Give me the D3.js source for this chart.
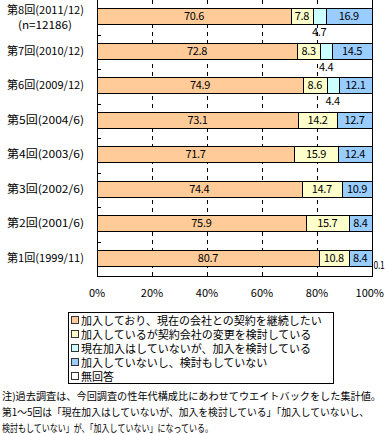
<!DOCTYPE html>
<html>
<head>
<meta charset="utf-8">
<script src="https://cdn.jsdelivr.net/npm/d3@7"></script>
<style>
  body { margin: 0; background: #fff; }
  svg { display: block; }
  text { font-family: "MS PGothic", "Noto Sans CJK JP", sans-serif; fill: #000; }
</style>
</head>
<body>
<div id="chart"></div>
<script>
// survey rounds, top to bottom
var rounds = ["第8回(2011/12)", "第7回(2010/12)", "第6回(2009/12)", "第5回(2004/6)",
              "第4回(2003/6)", "第3回(2002/6)", "第2回(2001/6)", "第1回(1999/11)"]

var continueVals = [70.6, 72.8, 74.9, 73.1, 71.7, 74.4, 75.9, 80.7]
var switchVals   = [7.8, 8.3, 8.6, 14.2, 15.9, 14.7, 15.7, 10.8]
var considerVals = [4.7, 4.4, 4.4, null, null, null, null, null]
var notJoinVals  = [16.9, 14.5, 12.1, 12.7, 12.4, 10.9, 8.4, 8.4]
var noAnswerVals = [0, 0, 0, 0, 0, 0, 0, 0.1]

var xTicks = [0, 20, 40, 60, 80, 100]

var legendKeys = ["加入しており、現在の会社との契約を継続したい",
                  "加入しているが契約会社の変更を検討している",
                  "現在加入はしていないが、加入を検討している",
                  "加入していないし、検討もしていない",
                  "無回答"]
var colors = ["#FFCC99", "#FFFFCC", "#CCFFFF", "#99CCFF", "#FFFFFF"]

var notes = ["注)過去調査は、今回調査の性年代構成比にあわせてウエイトバックをした集計値。",
             "第1〜5回は「現在加入はしていないが、加入を検討している」「加入していないし、",
             "検討もしていない」が、「加入していない」になっている。"]
var noteWidths = [379, 367, 211]

var width = 385, height = 434
var margin = {left: 97, right: 13, top: 0, plotBottom: 276}

var svg = d3.select("#chart").append("svg")
            .attr("width", width)
            .attr("height", height)

var xScale = d3.scaleLinear().domain([0, 100]).range([margin.left, width - margin.right])
var yScale = d3.scaleBand().domain(rounds).range([margin.top, margin.plotBottom])
var barOffset = 8, barH = 16

// build rows
var series = [continueVals, switchVals, considerVals, notJoinVals, noAnswerVals]
var rows = rounds.map(function(r, i) {
    var acc = 0
    return series.map(function(s, k) {
        var v = s[i] || 0
        var seg = {round: r, k: k, v: v, raw: s[i], x0: acc, x1: acc + v}
        acc += v
        return seg
    })
})

// dashed gridlines
svg.append("g").selectAll("line")
   .data(xTicks.filter(function(t) { return t > 0 && t < 100 }))
   .enter().append("line")
   .attr("x1", function(d) { return Math.round(xScale(d)) + 0.5 })
   .attr("x2", function(d) { return Math.round(xScale(d)) + 0.5 })
   .attr("y1", margin.top)
   .attr("y2", margin.plotBottom)
   .attr("stroke", "#000")
   .attr("stroke-dasharray", "4,4")

// bars
svg.append("g").selectAll("rect")
   .data(d3.merge(rows).filter(function(d) { return d.v > 0 && d.k < 4 }))
   .enter().append("rect")
   .attr("x", function(d) { return Math.round(xScale(d.x0)) + 0.5 })
   .attr("width", function(d) { return Math.round(xScale(d.x1)) - Math.round(xScale(d.x0)) })
   .attr("y", function(d) { return Math.round(yScale(d.round) + barOffset) + 0.5 })
   .attr("height", barH)
   .attr("fill", function(d) { return colors[d.k] })
   .attr("stroke", "#000")

// axes frame
var frame = svg.append("g").attr("stroke", "#000").attr("shape-rendering", "crispEdges")
frame.append("line").attr("x1", margin.left + 0.5).attr("x2", margin.left + 0.5)
     .attr("y1", margin.top).attr("y2", margin.plotBottom + 0.5)
frame.append("line").attr("x1", margin.left).attr("x2", xScale(100) + 1)
     .attr("y1", margin.plotBottom + 0.5).attr("y2", margin.plotBottom + 0.5)
frame.append("line").attr("x1", Math.round(xScale(100)) + 0.5).attr("x2", Math.round(xScale(100)) + 0.5)
     .attr("y1", margin.top).attr("y2", margin.plotBottom + 0.5)
frame.selectAll("line.tick")
     .data(rounds.slice(1))
     .enter().append("line")
     .attr("class", "tick")
     .attr("x1", margin.left).attr("x2", margin.left + 4)
     .attr("y1", function(d) { return Math.round(yScale(d)) + 0.5 })
     .attr("y2", function(d) { return Math.round(yScale(d)) + 0.5 })

// value labels
var labels = svg.append("g").attr("font-size", "11px")
labels.selectAll("text")
   .data(d3.merge(rows).filter(function(d) { return d.raw != null && d.v > 0 }))
   .enter().append("text")
   .attr("text-anchor", function(d) { return d.k == 4 ? "start" : "middle" })
   .attr("letter-spacing", "-0.3")
   .attr("x", function(d) {
       if (d.k == 4) return xScale(100) + 1.5
       return (xScale(d.x0) + xScale(d.x1)) / 2
   })
   .attr("y", function(d) {
       var top = yScale(d.round)
       if (d.k == 2) return top + 36
       if (d.k == 4) return top + barOffset + barH + 3
       return top + barOffset + 12
   })
   .attr("textLength", function(d) { return d.k == 4 ? 11 : null })
   .attr("lengthAdjust", "spacingAndGlyphs")
   .text(function(d) { return d3.format(".1f")(d.v) })

// category labels
var yl = svg.append("g").attr("font-size", "11px")
yl.selectAll("text")
  .data(rounds)
  .enter().append("text")
  .attr("text-anchor", "end")
  .attr("x", 84)
  .attr("y", function(d, i) { return i == 0 ? 14 : yScale(d) + barOffset + 12 })
  .attr("textLength", function(d) { return d.length >= 13 ? 83 : 77 })
  .attr("lengthAdjust", "spacingAndGlyphs")
  .text(function(d) { return d })
yl.append("text").attr("text-anchor", "middle").attr("x", 45).attr("y", 29)
  .attr("textLength", 54).attr("lengthAdjust", "spacingAndGlyphs").text("(n=12186)")

// x tick labels
svg.append("g").attr("font-size", "11px").selectAll("text")
   .data(xTicks)
   .enter().append("text")
   .attr("text-anchor", function(d) { return d == 100 ? "end" : "middle" })
   .attr("x", function(d) { return d == 100 ? width - 1 : xScale(d) })
   .attr("y", 297)
   .text(function(d) { return d + "%" })

// legend
var lg = svg.append("g")
lg.append("rect").attr("x", 68.5).attr("y", 312.5).attr("width", 265).attr("height", 71)
  .attr("fill", "#fff").attr("stroke", "#000")
var items = lg.selectAll("g.item").data(legendKeys).enter().append("g")
   .attr("transform", function(d, i) { return "translate(0," + (320 + i * 14) + ")" })
items.append("rect").attr("x", 71.5).attr("y", -3.5).attr("width", 7).attr("height", 7)
   .attr("fill", function(d, i) { return colors[i] })
   .attr("stroke", "#333")
items.append("text").attr("x", 81).attr("y", 4.5).attr("font-size", "11px")
   .text(function(d) { return d })

// notes
svg.append("g").attr("font-size", "10px").selectAll("text")
   .data(notes)
   .enter().append("text")
   .attr("x", 2)
   .attr("y", function(d, i) { return 400 + i * 16 })
   .attr("textLength", function(d, i) { return noteWidths[i] })
   .attr("lengthAdjust", "spacingAndGlyphs")
   .text(function(d) { return d })
</script>
</body>
</html>
